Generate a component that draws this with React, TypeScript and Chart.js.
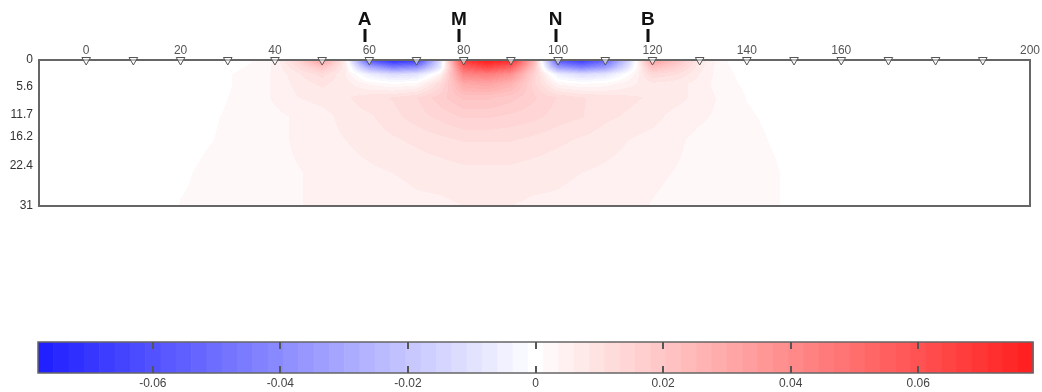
import React, { useEffect, useRef } from 'react';
import { Chart, registerables } from 'chart.js';

Chart.register(...registerables);

// ---- grid of the sensitivity section (x along profile, depth downwards) ----
const xNodes = [15, 20, 25, 30, 35, 40, 45, 50, 55, 60, 65, 70, 75, 80, 85, 90, 95, 100, 105, 110, 115, 120, 125, 130, 135, 140, 145, 150, 155];
const depthNodes = [0, 1.5, 3, 5, 8, 12, 17, 24, 31];

const rowZ0 = [0, 0, 0, 0, 0.001, 0.004, 0.015, 0.035, 0.005, -0.06, -0.075, -0.07, -0.012, 0.07, 0.08, 0.075, 0.025, -0.06, -0.07, -0.055, -0.015, 0.035, 0.022, 0.008, 0.0013, 0.0004, 0, 0, 0];
const rowZ1 = [0, 0, 0, 0.0005, 0.0015, 0.004, 0.011, 0.02, 0.006, -0.03, -0.045, -0.04, -0.008, 0.055, 0.065, 0.055, 0.02, -0.035, -0.045, -0.035, -0.008, 0.022, 0.016, 0.007, 0.0015, 0.0005, 0.0002, 0, 0];
const rowZ2 = [0, 0, 0, 0.001, 0.002, 0.004, 0.008, 0.012, 0.006, -0.006, -0.012, -0.01, 0.004, 0.042, 0.045, 0.038, 0.015, -0.006, -0.012, -0.009, 0.001, 0.013, 0.011, 0.006, 0.0017, 0.0006, 0.0002, 0, 0];
const rowZ3 = [0, 0, 0, 0.001, 0.002, 0.004, 0.007, 0.009, 0.007, 0.003, 0.001, 0.002, 0.012, 0.03, 0.032, 0.027, 0.014, 0.003, 0.001, 0.002, 0.005, 0.008, 0.007, 0.005, 0.0019, 0.0008, 0.0003, 0, 0];
const rowZ4 = [0, 0, 0.0003, 0.0012, 0.002, 0.004, 0.006, 0.007, 0.008, 0.01, 0.011, 0.013, 0.017, 0.021, 0.021, 0.019, 0.016, 0.013, 0.011, 0.01, 0.009, 0.008, 0.007, 0.005, 0.003, 0.0011, 0.0005, 0, 0];
const rowZ5 = [0, 0, 0.0008, 0.0014, 0.002, 0.003, 0.004, 0.005, 0.007, 0.008, 0.01, 0.012, 0.014, 0.016, 0.016, 0.015, 0.014, 0.012, 0.011, 0.009, 0.008, 0.007, 0.005, 0.004, 0.003, 0.0015, 0.0008, 0.0003, 0];
const rowZ6 = [0, 0.0004, 0.001, 0.0015, 0.002, 0.003, 0.004, 0.005, 0.006, 0.007, 0.008, 0.009, 0.01, 0.011, 0.011, 0.011, 0.01, 0.009, 0.008, 0.007, 0.006, 0.005, 0.004, 0.003, 0.0025, 0.002, 0.0011, 0.0005, 0];
const rowZ7 = [0, 0.0009, 0.0015, 0.002, 0.0025, 0.003, 0.0035, 0.004, 0.005, 0.0055, 0.006, 0.0065, 0.007, 0.0075, 0.0075, 0.0075, 0.007, 0.0065, 0.006, 0.0055, 0.005, 0.004, 0.0035, 0.003, 0.0025, 0.002, 0.0016, 0.0006, 0];
const rowZ8 = [0, 0.0013, 0.0015, 0.002, 0.0025, 0.003, 0.0035, 0.004, 0.0045, 0.005, 0.005, 0.0055, 0.0055, 0.006, 0.006, 0.006, 0.0055, 0.0055, 0.005, 0.0045, 0.004, 0.0035, 0.003, 0.0025, 0.002, 0.0018, 0.0016, 0.0006, 0];
const fieldRows = [rowZ0, rowZ1, rowZ2, rowZ3, rowZ4, rowZ5, rowZ6, rowZ7, rowZ8];

// ---- axes, electrodes, markers ----
const xTickValues = [0, 20, 40, 60, 80, 100, 120, 140, 160, 200];
const depthTickValues = [0, 5.6, 11.7, 16.2, 22.4, 31];
const electrodeX = [0, 10, 20, 30, 40, 50, 60, 70, 80, 90, 100, 110, 120, 130, 140, 150, 160, 170, 180, 190];
const markerLabels = ['A', 'M', 'N', 'B'];
const markerX = [59, 79, 99.5, 119];

// ---- colour scale ----
const colorbarTicks = [-0.06, -0.04, -0.02, 0, 0.02, 0.04, 0.06];
const colorMin = -0.078;
const colorMax = 0.078;
const colorLevels = 65;

const FONT = '"Liberation Sans", Arial, sans-serif';

function findSpan(nodes: number[], v: number): number {
  for (let i = 0; i < nodes.length - 1; i++) {
    if (v <= nodes[i + 1]) return i;
  }
  return nodes.length - 2;
}

function sampleField(x: number, z: number): number {
  if (x < xNodes[0] || x > xNodes[xNodes.length - 1]) return 0;
  if (z < depthNodes[0] || z > depthNodes[depthNodes.length - 1]) return 0;
  const i = findSpan(xNodes, x);
  const j = findSpan(depthNodes, z);
  const tx = (x - xNodes[i]) / (xNodes[i + 1] - xNodes[i]);
  const tz = (z - depthNodes[j]) / (depthNodes[j + 1] - depthNodes[j]);
  const a = fieldRows[j][i], b = fieldRows[j][i + 1];
  const c = fieldRows[j + 1][i], d = fieldRows[j + 1][i + 1];
  return (a * (1 - tx) + b * tx) * (1 - tz) + (c * (1 - tx) + d * tx) * tz;
}

function colorFor(v: number): [number, number, number] {
  const step = (colorMax - colorMin) / colorLevels;
  const half = (colorLevels - 1) / 2;
  let k = Math.round(v / step);
  if (k > half) k = half;
  if (k < -half) k = -half;
  const t = Math.abs(k) / half;
  const c = Math.round(255 - 222 * t);
  return k < 0 ? [c, c, 255] : [255, c, c];
}

const fieldPlugin = {
  id: 'fieldShading',
  beforeDatasetsDraw(chart: any) {
    const { ctx, chartArea: a, scales } = chart;
    const xs = scales.x, ys = scales.y;
    const w = Math.round(a.right - a.left);
    const h = Math.round(a.bottom - a.top);
    const off = document.createElement('canvas');
    off.width = w;
    off.height = h;
    const octx = off.getContext('2d')!;
    const img = octx.createImageData(w, h);
    for (let py = 0; py < h; py++) {
      const z = ys.getValueForPixel(a.top + py + 0.5);
      for (let px = 0; px < w; px++) {
        const xv = xs.getValueForPixel(a.left + px + 0.5);
        const [r, g, b] = colorFor(sampleField(xv, z));
        const idx = (py * w + px) * 4;
        img.data[idx] = r;
        img.data[idx + 1] = g;
        img.data[idx + 2] = b;
        img.data[idx + 3] = 255;
      }
    }
    octx.putImageData(img, 0, 0);
    ctx.save();
    ctx.drawImage(off, a.left, a.top, w, h);
    ctx.strokeStyle = '#666';
    ctx.lineWidth = 2;
    ctx.strokeRect(a.left, a.top, a.right - a.left, a.bottom - a.top);
    ctx.restore();
  },
  afterDraw(chart: any) {
    const { ctx, scales } = chart;
    ctx.save();
    ctx.fillStyle = '#111';
    ctx.font = 'bold 19px ' + FONT;
    ctx.textAlign = 'center';
    ctx.textBaseline = 'alphabetic';
    markerLabels.forEach((lab, i) => {
      const px = scales.x.getPixelForValue(markerX[i]);
      ctx.fillText(lab, px, 25);
      ctx.fillRect(Math.round(px) - 1.5, 29, 3, 13);
    });
    ctx.restore();
  },
};

const colorbarPlugin = {
  id: 'colorbarBands',
  beforeDatasetsDraw(chart: any) {
    const { ctx, chartArea: a, scales } = chart;
    const xs = scales.x;
    const step = (colorMax - colorMin) / colorLevels;
    const half = (colorLevels - 1) / 2;
    ctx.save();
    for (let k = 0; k < colorLevels; k++) {
      const lo = colorMin + k * step;
      const hi = lo + step;
      const [r, g, b] = colorFor((k - half) * step);
      const x0 = xs.getPixelForValue(lo);
      const x1 = xs.getPixelForValue(hi);
      ctx.fillStyle = `rgb(${r},${g},${b})`;
      ctx.fillRect(x0, a.top, x1 - x0 + 0.6, a.bottom - a.top);
    }
    ctx.strokeStyle = '#666';
    ctx.lineWidth = 1.5;
    ctx.strokeRect(a.left, a.top, a.right - a.left, a.bottom - a.top);
    ctx.strokeStyle = '#555';
    ctx.lineWidth = 2;
    colorbarTicks.forEach((v) => {
      const px = Math.round(xs.getPixelForValue(v));
      ctx.beginPath();
      ctx.moveTo(px, a.top);
      ctx.lineTo(px, a.top + 7);
      ctx.moveTo(px, a.bottom - 7);
      ctx.lineTo(px, a.bottom);
      ctx.stroke();
    });
    ctx.restore();
  },
};

export default function App() {
  const mainRef = useRef<HTMLCanvasElement>(null);
  const barRef = useRef<HTMLCanvasElement>(null);

  useEffect(() => {
    const main = new Chart(mainRef.current!, {
      type: 'scatter',
      data: {
        datasets: [
          {
            data: electrodeX.map((x) => ({ x, y: 0 })),
            pointStyle: 'triangle',
            rotation: 180,
            radius: 5,
            borderWidth: 1,
            borderColor: '#555',
            backgroundColor: 'rgba(255,255,255,0.55)',
            clip: false,
          } as any,
        ],
      },
      options: {
        responsive: false,
        animation: false,
        layout: { padding: { left: 0, right: 10, top: 0, bottom: 14 } },
        plugins: { legend: { display: false }, tooltip: { enabled: false } },
        scales: {
          x: {
            type: 'linear',
            position: 'top',
            min: -10,
            max: 200,
            afterBuildTicks: (s: any) => {
              s.ticks = xTickValues.map((v) => ({ value: v }));
            },
            afterFit: (s: any) => {
              s.height = 60;
            },
            grid: { display: false, drawTicks: false },
            border: { display: false },
            ticks: {
              autoSkip: false,
              maxRotation: 0,
              padding: 2,
              color: '#555',
              font: { family: FONT, size: 12 },
              callback: (v: any) => String(v),
            },
          },
          y: {
            type: 'linear',
            reverse: true,
            min: 0,
            max: 31,
            afterBuildTicks: (s: any) => {
              s.ticks = depthTickValues.map((v) => ({ value: v }));
            },
            afterFit: (s: any) => {
              s.width = 39;
            },
            grid: { display: false, drawTicks: false },
            border: { display: false },
            ticks: {
              autoSkip: false,
              padding: 6,
              color: '#333',
              font: { family: FONT, size: 12 },
              callback: (v: any) => String(v),
            },
          },
        },
      },
      plugins: [fieldPlugin],
    });

    const bar = new Chart(barRef.current!, {
      type: 'scatter',
      data: { datasets: [] },
      options: {
        responsive: false,
        animation: false,
        layout: { padding: { left: 38, right: 9, top: 12, bottom: 0 } },
        plugins: { legend: { display: false }, tooltip: { enabled: false } },
        scales: {
          x: {
            type: 'linear',
            position: 'bottom',
            min: colorMin,
            max: colorMax,
            afterBuildTicks: (s: any) => {
              s.ticks = colorbarTicks.map((v) => ({ value: v }));
            },
            afterFit: (s: any) => {
              s.height = 19;
            },
            grid: { display: false, drawTicks: false },
            border: { display: false },
            ticks: {
              autoSkip: false,
              maxRotation: 0,
              padding: 3,
              color: '#444',
              font: { family: FONT, size: 12 },
              callback: (v: any) => String(v),
            },
          },
          y: { display: false, min: 0, max: 1 },
        },
      },
      plugins: [colorbarPlugin],
    });

    return () => {
      main.destroy();
      bar.destroy();
    };
  }, []);

  return (
    <div style={{ position: 'absolute', left: 0, top: 0, width: 1042, height: 392, background: '#fff' }}>
      <canvas ref={mainRef} width={1042} height={220} style={{ position: 'absolute', left: 0, top: 0, width: 1042, height: 220 }} />
      <canvas ref={barRef} width={1042} height={62} style={{ position: 'absolute', left: 0, top: 330, width: 1042, height: 62 }} />
    </div>
  );
}
